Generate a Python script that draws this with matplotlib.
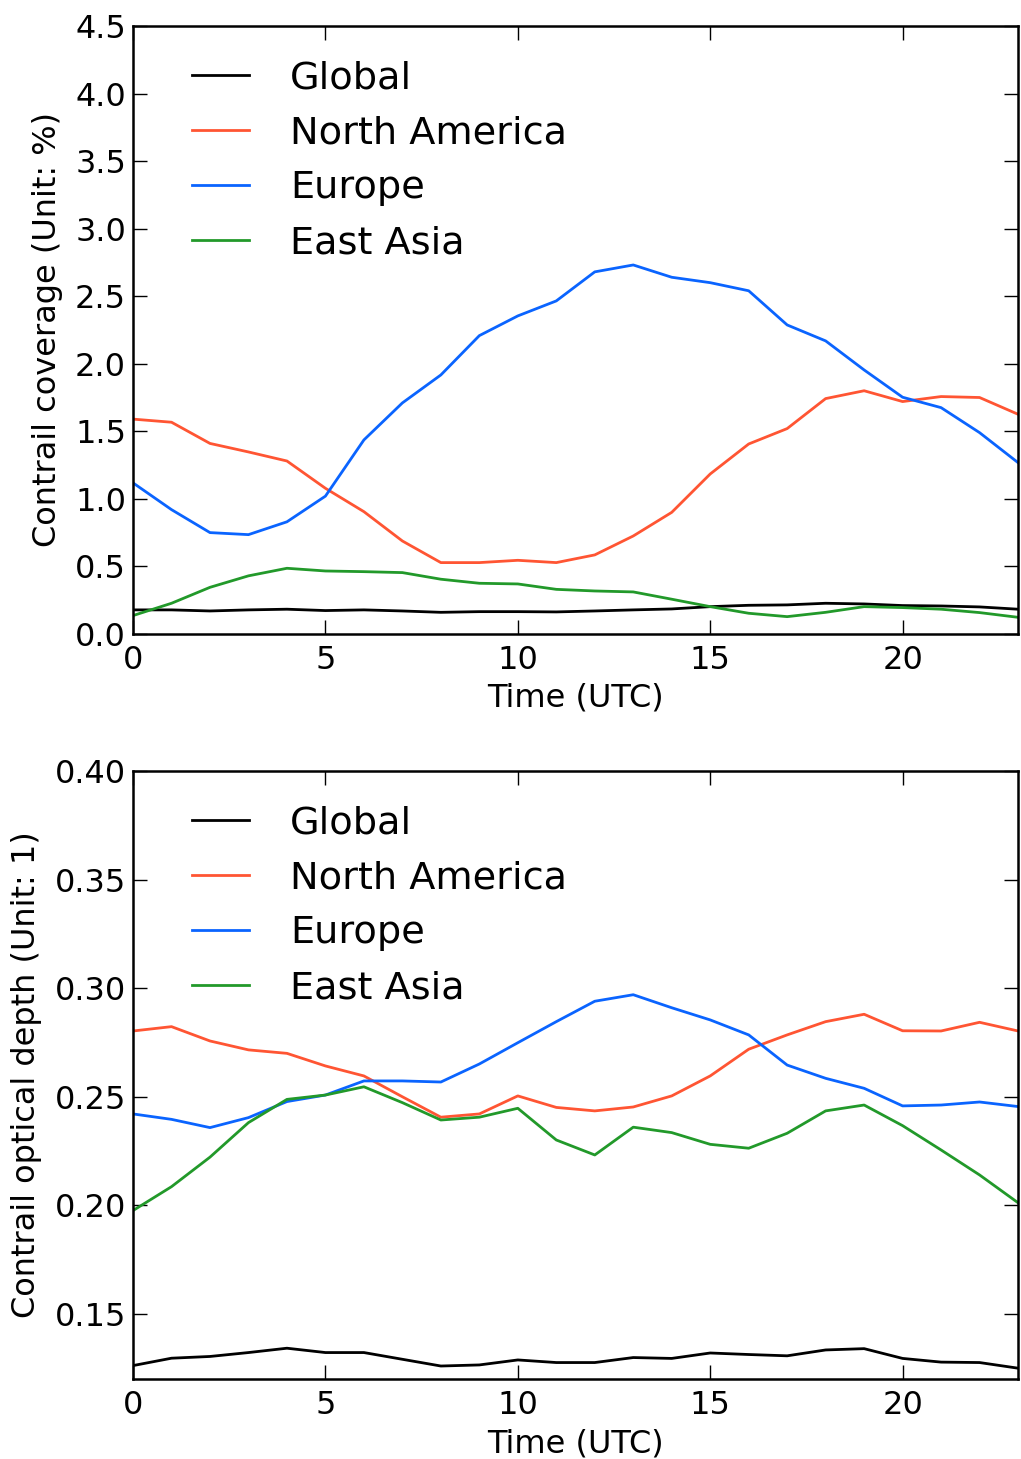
import numpy as np
import matplotlib
matplotlib.use("Agg")
import matplotlib.pyplot as plt

hours = np.arange(24)
regions = ["Global", "North America", "Europe", "East Asia"]
colors = ["black", "#ff5533", "#0a64ff", "#22992a"]

# contrail coverage (%)
cov_global = [0.178, 0.178, 0.170, 0.178, 0.183, 0.173, 0.178, 0.170, 0.160, 0.165,
              0.165, 0.163, 0.170, 0.178, 0.185, 0.202, 0.212, 0.215, 0.227, 0.222,
              0.210, 0.207, 0.200, 0.183]
cov_namerica = [1.59, 1.567, 1.41, 1.347, 1.28, 1.078, 0.905, 0.688, 0.528, 0.528,
                0.545, 0.528, 0.585, 0.725, 0.90, 1.184, 1.406, 1.52, 1.742, 1.80,
                1.72, 1.757, 1.75, 1.626]
cov_europe = [1.118, 0.92, 0.75, 0.735, 0.83, 1.02, 1.436, 1.71, 1.917, 2.208,
              2.354, 2.465, 2.68, 2.731, 2.64, 2.60, 2.54, 2.287, 2.169, 1.954,
              1.752, 1.675, 1.49, 1.268]
cov_easia = [0.136, 0.227, 0.345, 0.43, 0.486, 0.466, 0.461, 0.454, 0.405, 0.375,
             0.37, 0.33, 0.318, 0.311, 0.257, 0.202, 0.153, 0.128, 0.16, 0.202,
             0.195, 0.183, 0.158, 0.123]

# contrail optical depth (1)
tau_global = [0.1262, 0.1296, 0.1304, 0.1322, 0.1342, 0.1322, 0.1322, 0.1291, 0.1260, 0.1265,
              0.1288, 0.1276, 0.1276, 0.1299, 0.1295, 0.1320, 0.1313, 0.1307, 0.1334, 0.1340,
              0.1295, 0.1278, 0.1276, 0.1250]
tau_namerica = [0.2803, 0.2823, 0.2757, 0.2716, 0.2700, 0.2642, 0.2596, 0.2500, 0.2406, 0.2421,
                0.2504, 0.2451, 0.2435, 0.2453, 0.2504, 0.2596, 0.2719, 0.2785, 0.2846, 0.2880,
                0.2804, 0.2803, 0.2843, 0.2803]
tau_europe = [0.2421, 0.2396, 0.2358, 0.2404, 0.2478, 0.2508, 0.2573, 0.2573, 0.2568, 0.2651,
              0.2749, 0.2846, 0.2940, 0.2970, 0.2910, 0.2854, 0.2785, 0.2646, 0.2585, 0.2539,
              0.2458, 0.2462, 0.2476, 0.2455]
tau_easia = [0.1976, 0.2086, 0.2222, 0.2381, 0.2488, 0.2508, 0.2546, 0.2473, 0.2393, 0.2406,
             0.2447, 0.2301, 0.2232, 0.2360, 0.2335, 0.2281, 0.2263, 0.2332, 0.2435, 0.2462,
             0.2367, 0.2255, 0.2140, 0.2012]

fig = plt.figure(figsize=(10.21, 14.59), dpi=100)
ax1 = fig.add_axes([0.1303, 0.5655, 0.8668, 0.4167])
ax2 = fig.add_axes([0.1303, 0.0548, 0.8668, 0.4167])


def style(ax, ylabel):
    ax.set_xlim(0, 23)
    ax.set_xticks([0, 5, 10, 15, 20])
    ax.tick_params(direction="in", length=10, width=1, labelsize=23,
                   top=True, right=True)
    ax.tick_params(axis="x", pad=8)
    ax.tick_params(axis="y", pad=5)
    for sp in ax.spines.values():
        sp.set_linewidth(1.8)
    ax.set_xlabel("Time (UTC)", fontsize=23, labelpad=5)
    ax.set_ylabel(ylabel, fontsize=23, labelpad=9)
    ax.legend(loc="upper left", frameon=False, fontsize=27.5, handlelength=1.5,
              handletextpad=1.08, labelspacing=0.5, borderaxespad=0.3,
              bbox_to_anchor=(0.036, 0.988))


for series, name, c in zip([cov_global, cov_namerica, cov_europe, cov_easia], regions, colors):
    ax1.plot(hours, series, color=c, linewidth=2, label=name)
ax1.set_ylim(0, 4.5)
ax1.set_yticks(np.arange(0, 4.51, 0.5))
ax1.yaxis.set_major_formatter(matplotlib.ticker.FormatStrFormatter("%.1f"))
style(ax1, "Contrail coverage (Unit: %)")

for series, name, c in zip([tau_global, tau_namerica, tau_europe, tau_easia], regions, colors):
    ax2.plot(hours, series, color=c, linewidth=2, label=name)
ax2.set_ylim(0.12, 0.40)
ax2.set_yticks([0.15, 0.20, 0.25, 0.30, 0.35, 0.40])
ax2.yaxis.set_major_formatter(matplotlib.ticker.FormatStrFormatter("%.2f"))
style(ax2, "Contrail optical depth (Unit: 1)")

fig.savefig("out.png", dpi=100)
